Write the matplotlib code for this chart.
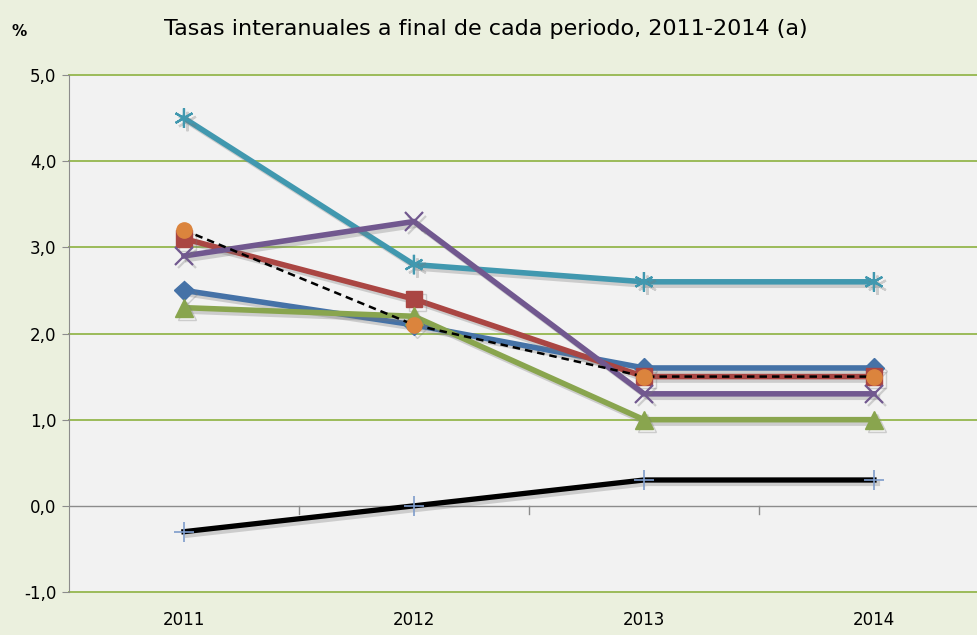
import matplotlib.pyplot as plt
import matplotlib.patheffects as pe

# Datos: tasas interanuales a final de cada periodo
years = ['2011', '2012', '2013', '2014']
serie_azul = [2.5, 2.1, 1.6, 1.6]
serie_roja = [3.1, 2.4, 1.5, 1.5]
serie_verde = [2.3, 2.2, 1.0, 1.0]
serie_morada = [2.9, 3.3, 1.3, 1.3]
serie_turquesa = [4.5, 2.8, 2.6, 2.6]
serie_naranja = [3.2, 2.1, 1.5, 1.5]
serie_negra = [-0.3, 0.0, 0.3, 0.3]
y_ticks = [-1.0, 0.0, 1.0, 2.0, 3.0, 4.0, 5.0]

fig = plt.figure(figsize=(9.77, 6.35), dpi=100)
fig.patch.set_facecolor('#EBF0DE')
ax = fig.add_axes([0.0706, 0.0677, 0.9294, 0.8142])
ax.set_facecolor('#F2F2F2')

x = range(len(years))
shadow = [pe.SimpleLineShadow(offset=(2.5, -2.5), shadow_color='#777777', alpha=0.3), pe.Normal()]

for yv in y_ticks:
    if yv != 0.0:
        ax.axhline(yv, color='#9BBB59', lw=1.4, zorder=1, clip_on=False)
ax.axhline(0.0, color='#8C8C8C', lw=1.0, zorder=1)

ax.plot(x, serie_turquesa, color='#4198AF', lw=4, marker=(6, 2, 0), ms=14, mew=1.6, path_effects=shadow, zorder=3)
ax.plot(x, serie_azul, color='#4572A7', lw=4, marker='D', ms=10, path_effects=shadow, zorder=3)
ax.plot(x, serie_roja, color='#AA4643', lw=4, marker='s', ms=12, path_effects=shadow, zorder=3)
ax.plot(x, serie_verde, color='#89A54E', lw=4, marker='^', ms=13, path_effects=shadow, zorder=3)
ax.plot(x, serie_morada, color='#71588F', lw=4, marker='x', ms=13, mew=1.6, path_effects=shadow, zorder=3)
ax.plot(x, serie_naranja, color='black', lw=1.8, ls=(0, (3, 2)), zorder=4)
ax.plot(x, serie_naranja, ls='none', marker='o', ms=11, color='#DB843D', zorder=5)
ax.plot(x, serie_negra, color='black', lw=3.8, path_effects=shadow, zorder=3)
ax.plot(x, serie_negra, ls='none', marker='+', ms=14, mew=1.2, color='#7E9CCB', zorder=4)

ax.set_xlim(-0.5, 3.448)
ax.set_ylim(-1.0, 5.0)
ax.set_yticks(y_ticks)
ax.set_yticklabels([f'{v:.1f}'.replace('.', ',') for v in y_ticks], fontsize=12)
ax.set_xticks(list(x))
ax.set_xticklabels(years, fontsize=12)
ax.tick_params(axis='x', length=0, pad=14)
ax.tick_params(axis='y', length=5, color='#8C8C8C', direction='out', pad=4)

# marcas entre categorías sobre la línea de cero
for b in [0.5, 1.5, 2.5]:
    ax.plot([b, b], [0.0, -0.09], color='#8C8C8C', lw=1.0, zorder=1, clip_on=False)

for side in ['top', 'right', 'bottom']:
    ax.spines[side].set_visible(False)
ax.spines['left'].set_color('#8C8C8C')

fig.text(0.497, 0.955, 'Tasas interanuales a final de cada periodo, 2011-2014 (a)', ha='center', va='center', fontsize=16)
fig.text(0.012, 0.95, '%', ha='left', va='center', fontsize=11, fontweight='bold')

fig.savefig('out.png', dpi=100, facecolor=fig.get_facecolor())
